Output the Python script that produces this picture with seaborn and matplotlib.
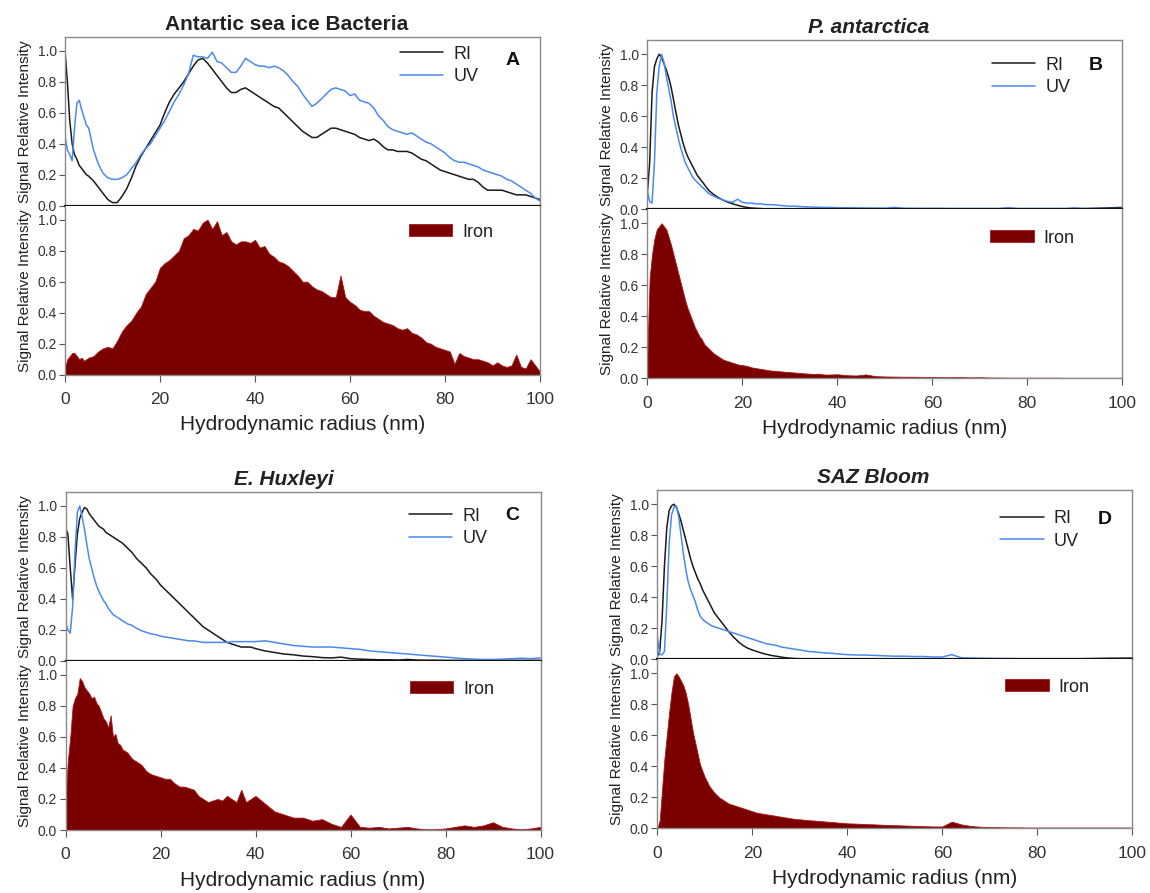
import matplotlib.pyplot as plt
import numpy as np
import pandas as pd
import seaborn as sns

# ---------------- data ----------------
# hydrodynamic radius grids (nm)
x_a = np.concatenate([np.arange(0, 5.5, 0.5), np.arange(6, 101, 1)])
x_bcd = np.concatenate([np.arange(0, 12.5, 0.5), np.arange(13, 41, 1), np.arange(42, 101, 2)])

# Panel A - Antartic sea ice Bacteria (0-5 by 0.5, then 6-100 by 1)
a_ri = [1.00, 0.80, 0.55, 0.40, 0.33, 0.30, 0.26, 0.24, 0.22, 0.20, 0.19,
        0.16, 0.12, 0.08, 0.04, 0.02, 0.02, 0.06, 0.11, 0.18, 0.26,
        0.32, 0.37, 0.42, 0.47, 0.52, 0.60, 0.67, 0.72, 0.76, 0.80,
        0.85, 0.90, 0.94, 0.95, 0.92, 0.88, 0.84, 0.80, 0.76, 0.73,
        0.73, 0.75, 0.76, 0.74, 0.72, 0.70, 0.68, 0.66, 0.64, 0.63,
        0.60, 0.57, 0.54, 0.51, 0.48, 0.46, 0.44, 0.44, 0.46, 0.48,
        0.50, 0.50, 0.49, 0.48, 0.47, 0.46, 0.44, 0.43, 0.42, 0.43,
        0.41, 0.38, 0.36, 0.36, 0.35, 0.35, 0.35, 0.34, 0.32, 0.30,
        0.29, 0.27, 0.25, 0.23, 0.22, 0.21, 0.20, 0.19, 0.18, 0.17,
        0.17, 0.15, 0.12, 0.10, 0.10, 0.10, 0.10, 0.09, 0.08, 0.07,
        0.07, 0.07, 0.06, 0.05, 0.04]
a_uv = [0.45, 0.36, 0.33, 0.29, 0.50, 0.66, 0.68, 0.62, 0.57, 0.52, 0.50,
        0.36, 0.27, 0.21, 0.18, 0.17, 0.17, 0.18, 0.20, 0.24, 0.28,
        0.33, 0.37, 0.40, 0.45, 0.50, 0.55, 0.61, 0.67, 0.72, 0.78,
        0.85, 0.97, 0.96, 0.96, 0.95, 0.99, 0.93, 0.92, 0.89, 0.86,
        0.86, 0.90, 0.95, 0.93, 0.91, 0.90, 0.90, 0.89, 0.90, 0.89,
        0.87, 0.84, 0.80, 0.77, 0.72, 0.68, 0.64, 0.66, 0.69, 0.72,
        0.75, 0.76, 0.75, 0.74, 0.71, 0.72, 0.68, 0.67, 0.66, 0.63,
        0.58, 0.55, 0.51, 0.49, 0.48, 0.47, 0.46, 0.47, 0.45, 0.43,
        0.41, 0.40, 0.38, 0.36, 0.34, 0.31, 0.29, 0.28, 0.28, 0.27,
        0.26, 0.25, 0.23, 0.22, 0.21, 0.20, 0.19, 0.17, 0.16, 0.14,
        0.12, 0.10, 0.08, 0.05, 0.03]
a_fe = [0.05, 0.10, 0.12, 0.14, 0.14, 0.12, 0.10, 0.11, 0.09, 0.10, 0.11,
        0.12, 0.15, 0.17, 0.18, 0.17, 0.22, 0.28, 0.32, 0.35, 0.40,
        0.44, 0.52, 0.56, 0.60, 0.69, 0.72, 0.74, 0.77, 0.80, 0.88,
        0.90, 0.94, 0.93, 0.98, 1.00, 0.94, 0.99, 0.90, 0.92, 0.86,
        0.84, 0.86, 0.86, 0.85, 0.87, 0.82, 0.83, 0.78, 0.76, 0.73,
        0.72, 0.70, 0.67, 0.64, 0.60, 0.60, 0.57, 0.55, 0.54, 0.52,
        0.50, 0.50, 0.64, 0.50, 0.47, 0.45, 0.42, 0.41, 0.41, 0.38,
        0.36, 0.34, 0.33, 0.32, 0.30, 0.29, 0.30, 0.27, 0.26, 0.24,
        0.21, 0.20, 0.18, 0.17, 0.16, 0.15, 0.07, 0.14, 0.12, 0.11,
        0.10, 0.10, 0.09, 0.08, 0.06, 0.08, 0.06, 0.05, 0.06, 0.13,
        0.05, 0.04, 0.10, 0.06, 0.02]

# Panels B-D: 0-12 by 0.5 (25), 13-40 by 1 (28), 42-100 by 2 (30)
# Panel B - P. antarctica
b_ri = ([0.10, 0.30, 0.75, 0.92, 0.97,
         1.00, 0.98, 0.94, 0.90, 0.85,
         0.79, 0.71, 0.63, 0.55, 0.49,
         0.43, 0.38, 0.34, 0.31, 0.28,
         0.25, 0.22, 0.20, 0.18, 0.16]
        + [0.12, 0.095, 0.075, 0.058, 0.045, 0.035, 0.026,
           0.018, 0.012, 0.008, 0.006, 0.004, 0.003, 0.003,
           0.002, 0.002, 0.002, 0.002, 0.002, 0.002, 0.002,
           0.002, 0.002, 0.002, 0.002, 0.002, 0.002, 0.002]
        + [0.002, 0.002, 0.002, 0.002, 0.002, 0.002, 0.002, 0.002, 0.002, 0.002,
           0.002, 0.002, 0.002, 0.002, 0.002, 0.002, 0.002, 0.002, 0.002, 0.002,
           0.002, 0.002, 0.002, 0.002, 0.003, 0.004, 0.006, 0.008, 0.010, 0.012])
b_uv = ([0.12, 0.05, 0.04, 0.30, 0.75,
         0.92, 1.00, 0.95, 0.86, 0.78,
         0.70, 0.60, 0.53, 0.46, 0.40,
         0.35, 0.30, 0.27, 0.24, 0.21,
         0.19, 0.175, 0.16, 0.145, 0.13]
        + [0.10, 0.085, 0.07, 0.06, 0.05, 0.045, 0.065,
           0.045, 0.04, 0.04, 0.035, 0.035, 0.03, 0.03,
           0.028, 0.025, 0.022, 0.02, 0.02, 0.018, 0.016,
           0.015, 0.014, 0.013, 0.012, 0.012, 0.011, 0.010]
        + [0.010, 0.009, 0.008, 0.008, 0.007, 0.012, 0.007, 0.006, 0.006, 0.006,
           0.006, 0.005, 0.005, 0.005, 0.005, 0.005, 0.005, 0.010, 0.005, 0.005,
           0.005, 0.005, 0.005, 0.005, 0.009, 0.005, 0.005, 0.005, 0.005, 0.005])
b_fe = ([0.15, 0.65, 0.80, 0.90, 0.96,
         0.98, 1.00, 0.98, 0.96, 0.91,
         0.86, 0.80, 0.74, 0.68, 0.62,
         0.56, 0.50, 0.45, 0.41, 0.37,
         0.33, 0.30, 0.27, 0.25, 0.22]
        + [0.19, 0.16, 0.14, 0.12, 0.11, 0.10, 0.09,
           0.085, 0.08, 0.07, 0.065, 0.06, 0.055, 0.05,
           0.048, 0.045, 0.042, 0.04, 0.037, 0.035, 0.032,
           0.03, 0.028, 0.03, 0.025, 0.024, 0.025, 0.026]
        + [0.020, 0.018, 0.025, 0.014, 0.012, 0.011, 0.010, 0.010, 0.009, 0.008,
           0.007, 0.007, 0.008, 0.006, 0.007, 0.005, 0.005, 0.004, 0.004, 0.004,
           0.004, 0.004, 0.004, 0.003, 0.003, 0.003, 0.003, 0.003, 0.003, 0.003])

# Panel C - E. Huxleyi
c_ri = ([0.86, 0.82, 0.60, 0.40, 0.62,
         0.82, 0.92, 0.96, 0.99, 0.98,
         0.95, 0.93, 0.91, 0.89, 0.87,
         0.86, 0.85, 0.83, 0.82, 0.81,
         0.80, 0.79, 0.78, 0.77, 0.76]
        + [0.73, 0.70, 0.66, 0.63, 0.60, 0.56, 0.53,
           0.49, 0.46, 0.43, 0.40, 0.37, 0.34, 0.31,
           0.28, 0.25, 0.22, 0.20, 0.18, 0.16, 0.14,
           0.12, 0.11, 0.10, 0.09, 0.09, 0.09, 0.08]
        + [0.065, 0.055, 0.045, 0.040, 0.032, 0.028, 0.022, 0.020, 0.025, 0.015,
           0.012, 0.010, 0.008, 0.008, 0.006, 0.010, 0.006, 0.005, 0.005, 0.004,
           0.004, 0.004, 0.004, 0.004, 0.004, 0.004, 0.004, 0.004, 0.004, 0.004])
c_uv = ([0.25, 0.20, 0.18, 0.35, 0.70,
         0.96, 1.00, 0.93, 0.85, 0.75,
         0.66, 0.60, 0.54, 0.49, 0.45,
         0.42, 0.39, 0.37, 0.34, 0.32,
         0.30, 0.29, 0.28, 0.27, 0.26]
        + [0.24, 0.23, 0.21, 0.195, 0.185, 0.175, 0.17,
           0.16, 0.155, 0.15, 0.145, 0.14, 0.135, 0.13,
           0.13, 0.125, 0.12, 0.12, 0.12, 0.12, 0.12,
           0.12, 0.125, 0.125, 0.125, 0.125, 0.125, 0.125]
        + [0.13, 0.12, 0.11, 0.10, 0.095, 0.09, 0.09, 0.09, 0.085, 0.08,
           0.075, 0.065, 0.06, 0.055, 0.05, 0.045, 0.04, 0.035, 0.03, 0.025,
           0.02, 0.015, 0.012, 0.01, 0.01, 0.012, 0.015, 0.018, 0.015, 0.02])
c_fe = ([0.20, 0.45, 0.60, 0.80, 0.85,
         0.88, 0.98, 0.96, 0.92, 0.90,
         0.88, 0.85, 0.86, 0.82, 0.80,
         0.76, 0.72, 0.70, 0.66, 0.74,
         0.60, 0.62, 0.56, 0.55, 0.52]
        + [0.50, 0.46, 0.44, 0.42, 0.38, 0.36, 0.35,
           0.34, 0.33, 0.33, 0.30, 0.28, 0.28, 0.27,
           0.26, 0.22, 0.20, 0.18, 0.19, 0.20, 0.19,
           0.22, 0.20, 0.18, 0.26, 0.18, 0.20, 0.22]
        + [0.17, 0.12, 0.10, 0.08, 0.08, 0.06, 0.07, 0.04, 0.02, 0.10,
           0.02, 0.015, 0.02, 0.01, 0.015, 0.02, 0.01, 0.005, 0.005, 0.01,
           0.02, 0.03, 0.02, 0.03, 0.05, 0.02, 0.01, 0.005, 0.01, 0.02])

# Panel D - SAZ Bloom
d_ri = ([0.02, 0.05, 0.25, 0.60, 0.85,
         0.96, 0.99, 1.00, 0.98, 0.94,
         0.89, 0.83, 0.77, 0.71, 0.65,
         0.60, 0.56, 0.52, 0.49, 0.45,
         0.42, 0.39, 0.36, 0.33, 0.30]
        + [0.26, 0.22, 0.18, 0.145, 0.115, 0.09, 0.072,
           0.06, 0.05, 0.04, 0.032, 0.025, 0.02, 0.015,
           0.01, 0.007, 0.005, 0.004, 0.003, 0.003, 0.003,
           0.003, 0.003, 0.003, 0.003, 0.003, 0.003, 0.003]
        + [0.003, 0.003, 0.003, 0.003, 0.003, 0.003, 0.003, 0.003, 0.003, 0.003,
           0.003, 0.003, 0.003, 0.003, 0.003, 0.003, 0.003, 0.003, 0.003, 0.003,
           0.003, 0.003, 0.003, 0.003, 0.004, 0.005, 0.006, 0.007, 0.007, 0.008])
d_uv = ([0.15, 0.03, 0.03, 0.05, 0.35,
         0.75, 0.93, 0.98, 0.99, 0.92,
         0.80, 0.68, 0.58, 0.50, 0.45,
         0.41, 0.37, 0.32, 0.28, 0.26,
         0.245, 0.235, 0.225, 0.215, 0.21]
        + [0.20, 0.19, 0.18, 0.17, 0.16, 0.15, 0.14,
           0.13, 0.12, 0.11, 0.10, 0.095, 0.09, 0.08,
           0.075, 0.07, 0.065, 0.06, 0.055, 0.05, 0.048,
           0.045, 0.042, 0.04, 0.038, 0.035, 0.032, 0.03]
        + [0.028, 0.027, 0.025, 0.022, 0.02, 0.02, 0.018, 0.018, 0.015, 0.015,
           0.03, 0.01, 0.008, 0.007, 0.006, 0.005, 0.005, 0.004, 0.004, 0.004,
           0.004, 0.004, 0.004, 0.004, 0.004, 0.004, 0.004, 0.004, 0.004, 0.004])
d_fe = ([0.00, 0.05, 0.25, 0.45, 0.60,
         0.75, 0.88, 0.98, 1.00, 0.98,
         0.95, 0.92, 0.87, 0.80, 0.71,
         0.62, 0.55, 0.48, 0.41, 0.37,
         0.33, 0.30, 0.27, 0.25, 0.23]
        + [0.20, 0.18, 0.16, 0.15, 0.14, 0.13, 0.12,
           0.11, 0.10, 0.095, 0.09, 0.085, 0.08, 0.075,
           0.07, 0.065, 0.06, 0.058, 0.055, 0.052, 0.05,
           0.047, 0.045, 0.042, 0.04, 0.037, 0.035, 0.032]
        + [0.03, 0.027, 0.025, 0.022, 0.02, 0.018, 0.016, 0.014, 0.012, 0.012,
           0.043, 0.025, 0.015, 0.01, 0.008, 0.007, 0.006, 0.006, 0.005, 0.005,
           0.005, 0.005, 0.005, 0.005, 0.005, 0.005, 0.005, 0.005, 0.005, 0.005])

titles = ['Antartic sea ice Bacteria', 'P. antarctica', 'E. Huxleyi', 'SAZ Bloom']
letters = ['A', 'B', 'C', 'D']

# ---------------- layout (pixels on a 1150 x 893 canvas) ----------------
W, H = 1150, 893
AX_W, AX_H = 475, 169
panels = [
    dict(x=x_a, ri=a_ri, uv=a_uv, fe=a_fe, left=65, mid=205.7, style='normal',
         tx=0.467, leg=(0.705, 0.83), let=(0.943, 0.862), fe_leg=(0.724, 0.844)),
    dict(x=x_bcd, ri=b_ri, uv=b_uv, fe=b_fe, left=647.3, mid=209.3, style='italic',
         tx=0.467, leg=(0.726, 0.786), let=(0.945, 0.848), fe_leg=(0.722, 0.83)),
    dict(x=x_bcd, ri=c_ri, uv=c_uv, fe=c_fe, left=65.5, mid=661, style='italic',
         tx=0.46, leg=(0.723, 0.79), let=(0.94, 0.858), fe_leg=(0.725, 0.834)),
    dict(x=x_bcd, ri=d_ri, uv=d_uv, fe=d_fe, left=657.3, mid=659.3, style='italic',
         tx=0.455, leg=(0.722, 0.765), let=(0.943, 0.83), fe_leg=(0.733, 0.836)),
]

sns.set_theme(style='white')
plt.rcParams['font.family'] = ['Liberation Sans', 'DejaVu Sans']
plt.rcParams['text.color'] = '#222222'
plt.rcParams['axes.labelcolor'] = '#222222'
plt.rcParams['xtick.color'] = '#555555'
plt.rcParams['ytick.color'] = '#555555'

fig = plt.figure(figsize=(W / 100, H / 100), dpi=100)

RI_COLOR = '#1a1a1a'
UV_COLOR = '#4a8af0'
FE_COLOR = '#7a0000'
FE_EDGE = '#b01515'

for i, p in enumerate(panels):
    l = p['left'] / W
    mid = 1 - p['mid'] / H
    h = AX_H / H
    ax_top = fig.add_axes([l, mid, AX_W / W, h])
    ax_bot = fig.add_axes([l, mid - h, AX_W / W, h])

    df = pd.DataFrame({'radius': p['x'], 'RI': p['ri'], 'UV': p['uv'], 'Iron': p['fe']})

    sns.lineplot(data=df, x='radius', y='RI', ax=ax_top, color=RI_COLOR, lw=1.1, label='RI')
    sns.lineplot(data=df, x='radius', y='UV', ax=ax_top, color=UV_COLOR, lw=1.1, label='UV')
    ax_bot.fill_between(df['radius'], 0, df['Iron'], color=FE_COLOR, edgecolor=FE_EDGE,
                        lw=0.6, label='Iron')

    for ax in (ax_top, ax_bot):
        ax.set_xlim(0, 100)
        ax.set_ylim(0, 1.09)
        ax.set_yticks([0.0, 0.2, 0.4, 0.6, 0.8, 1.0])
        ax.set_yticklabels(['0.0', '0.2', '0.4', '0.6', '0.8', '1.0'])
        ax.tick_params(axis='y', left=True, direction='out', length=4, width=0.8,
                       labelsize=10, labelcolor='#333333', pad=2)
        ax.set_ylabel('Signal Relative Intensity', fontsize=11, labelpad=4)
        for s in ax.spines.values():
            s.set_color('#8a8a8a')
            s.set_linewidth(1.0)

    ax_top.tick_params(axis='x', bottom=False, labelbottom=False)
    ax_top.set_xlabel('')
    ax_top.spines['bottom'].set_color('#111111')
    ax_top.spines['bottom'].set_linewidth(1.6)
    ax_bot.spines['top'].set_visible(False)

    ax_bot.set_xticks([0, 20, 40, 60, 80, 100])
    ax_bot.tick_params(axis='x', bottom=True, direction='out', length=5, width=0.8,
                       labelsize=12.5, labelcolor='#333333', pad=7.5)
    ax_bot.set_xlabel('Hydrodynamic radius (nm)', fontsize=15, labelpad=6)

    ax_top.set_title(titles[i], fontsize=15, fontweight='bold', fontstyle=p['style'],
                     x=p['tx'], pad=5)

    ax_top.legend(loc='center left', bbox_to_anchor=p['leg'], frameon=False, fontsize=13,
                  handlelength=2.4, handletextpad=0.55, labelspacing=0.3,
                  borderpad=0, borderaxespad=0)
    ax_bot.legend(loc='center left', bbox_to_anchor=p['fe_leg'], frameon=False, fontsize=13,
                  handlelength=2.4, handleheight=0.6, handletextpad=0.55,
                  borderpad=0, borderaxespad=0)

    ax_top.text(p['let'][0], p['let'][1], letters[i], transform=ax_top.transAxes,
                fontsize=14, fontweight='bold', ha='center', va='center', color='#111111')

fig.savefig('out.png', dpi=100)
